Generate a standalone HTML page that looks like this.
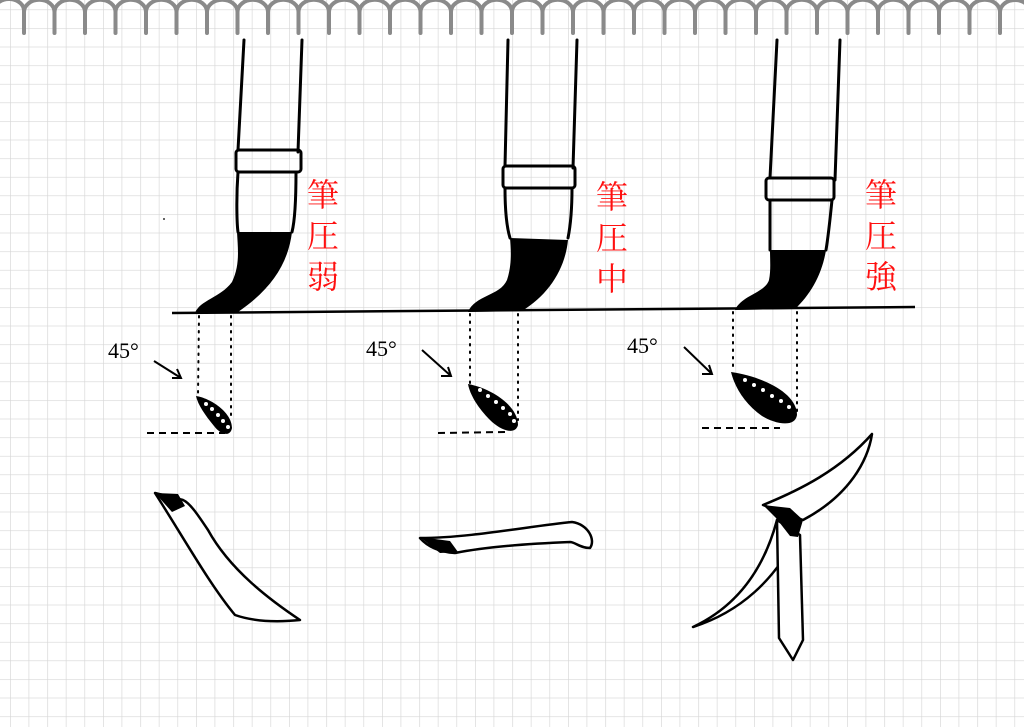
<!DOCTYPE html>
<html><head><meta charset="utf-8"><style>
html,body{margin:0;padding:0;background:#fff;}
svg{display:block}
text{font-family:"Liberation Sans","Noto Sans CJK JP",sans-serif;}
</style></head><body>
<svg width="1024" height="727" viewBox="0 0 1024 727" xmlns="http://www.w3.org/2000/svg">
<defs>
<pattern id="g" x="10" y="9.5" width="18.6" height="18.6" patternUnits="userSpaceOnUse">
<path d="M0 0V18.6M0 0H18.6" stroke="#d6d6d6" stroke-width="1.3" fill="none"/>
</pattern>
</defs>
<rect width="1024" height="727" fill="#fff"/>
<rect width="1024" height="727" fill="url(#g)"/>
<g stroke="#8a8a8a" stroke-width="4" fill="none" stroke-linecap="round">
<path d="M-6 10 A15 12 0 0 1 24 12 A15 12 0 0 1 54.5 12 A15 12 0 0 1 85 12 A15 12 0 0 1 115.5 12 A15 12 0 0 1 146 12 A15 12 0 0 1 176.5 12 A15 12 0 0 1 207 12 A15 12 0 0 1 237.5 12 A15 12 0 0 1 268 12 A15 12 0 0 1 298.5 12 A15 12 0 0 1 329 12 A15 12 0 0 1 359.5 12 A15 12 0 0 1 390 12 A15 12 0 0 1 420.5 12 A15 12 0 0 1 451 12 A15 12 0 0 1 481.5 12 A15 12 0 0 1 512 12 A15 12 0 0 1 542.5 12 A15 12 0 0 1 573 12 A15 12 0 0 1 603.5 12 A15 12 0 0 1 634 12 A15 12 0 0 1 664.5 12 A15 12 0 0 1 695 12 A15 12 0 0 1 725.5 12 A15 12 0 0 1 756 12 A15 12 0 0 1 786.5 12 A15 12 0 0 1 817 12 A15 12 0 0 1 847.5 12 A15 12 0 0 1 878 12 A15 12 0 0 1 908.5 12 A15 12 0 0 1 939 12 A15 12 0 0 1 969.5 12 A15 12 0 0 1 1000 12 A15 12 0 0 1 1030 12"/>
<path d="M24 12V33M54.5 12V33M85 12V33M115.5 12V33M146 12V33M176.5 12V33M207 12V33M237.5 12V33M268 12V33M298.5 12V33M329 12V33M359.5 12V33M390 12V33M420.5 12V33M451 12V33M481.5 12V33M512 12V33M542.5 12V33M573 12V33M603.5 12V33M634 12V33M664.5 12V33M695 12V33M725.5 12V33M756 12V33M786.5 12V33M817 12V33M847.5 12V33M878 12V33M908.5 12V33M939 12V33M969.5 12V33M1000 12V33"/>
</g>
<path d="M172 313 L915 307" stroke="#000" stroke-width="2.5" fill="none"/>
<g stroke="#000" stroke-width="3" fill="none" stroke-linecap="round">
<path d="M244 40 L238 150 M302 40 L298 152"/>
<rect x="236" y="150" width="65" height="22" rx="3"/>
<path d="M238 172 C236 200 237 225 238 232 M296 172 C296 200 295 220 292 232"/>
<path d="M508 40 L505 166 M577 40 L573 168"/>
<rect x="503" y="166" width="72" height="22" rx="3"/>
<path d="M505 188 C505 210 507 228 510 238 M572 188 C572 210 570 228 568 238"/>
<path d="M777 40 L770 178 M840 40 L835 180"/>
<rect x="766" y="178" width="68" height="22" rx="3"/>
<path d="M770 200 C770 220 770 238 770 250 M832 200 C830 220 828 238 826 250"/>
</g>
<g fill="#000">
<path d="M237 232 L292 232 C288 265 270 290 238 312 L195 313 C200 300 220 298 232 282 C240 265 238 250 237 232 Z"/>
<path d="M510 238 L568 240 C565 270 548 295 522 311 L468 312 C475 295 500 296 507 280 C512 265 511 250 510 238 Z"/>
<path d="M770 250 L826 250 C822 275 810 295 795 309 L735 310 C742 295 765 293 769 280 C771 270 770 260 770 250 Z"/>
</g>
<g stroke="#000" stroke-width="2" stroke-dasharray="1.5 6" fill="none" stroke-linecap="round">
<path d="M199 316 L198 395 M231 316 L231 420"/>
<path d="M470 314 L470 386 M518 314 L518 420"/>
<path d="M733 312 L733 372 M797 312 L797 415"/>
</g>
<g stroke="#000" stroke-width="2" stroke-dasharray="7 5" fill="none">
<path d="M147 433 L225 433"/>
<path d="M438 433 L505 432"/>
<path d="M702 428 L780 428"/>
</g>
<g fill="#000">
<path d="M196 396 C210 398 232 412 232 428 C230 438 220 434 214 426 C205 415 198 405 196 396 Z"/>
<path d="M468 384 C490 388 518 405 518 425 C515 436 500 430 490 420 C478 408 470 395 468 384 Z"/>
<path d="M731 372 C760 376 797 392 797 415 C795 428 775 424 762 416 C745 404 735 388 731 372 Z"/>
</g>
<g fill="#fff">
<circle cx="206" cy="404" r="2"/><circle cx="212" cy="409" r="2"/><circle cx="218" cy="415" r="2"/><circle cx="223" cy="421" r="2"/><circle cx="228" cy="427" r="2"/>
<circle cx="480" cy="390" r="2"/><circle cx="488" cy="396" r="2"/><circle cx="496" cy="402" r="2"/><circle cx="503" cy="408" r="2"/><circle cx="510" cy="414" r="2"/><circle cx="514" cy="421" r="2"/>
<circle cx="745" cy="380" r="2"/><circle cx="754" cy="385" r="2"/><circle cx="763" cy="390" r="2"/><circle cx="772" cy="396" r="2"/><circle cx="781" cy="401" r="2"/><circle cx="789" cy="407" r="2"/>
</g>
<g stroke="#000" stroke-width="2" fill="none">
<path d="M154 361 L181 378 M172 378 L181 378 L177 369"/>
<path d="M422 350 L451 376 M441 376 L451 376 L448 367"/>
<path d="M684 347 L712 374 M702 374 L712 374 L709 365"/>
</g>
<g font-size="22" fill="#000">
<text x="108" y="358" style="font-family:'Liberation Serif',serif">45°</text>
<text x="366" y="356" style="font-family:'Liberation Serif',serif">45°</text>
<text x="627" y="353" style="font-family:'Liberation Serif',serif">45°</text>
</g>
<g fill="#ff1010" font-size="32" style="font-family:'Liberation Serif','Noto Serif CJK SC',serif">
<text x="307" y="206" style="font-family:'Liberation Serif','Noto Serif CJK SC',serif">筆</text><text x="307" y="247" style="font-family:'Liberation Serif','Noto Serif CJK SC',serif">圧</text><text x="307" y="288" style="font-family:'Liberation Serif','Noto Serif CJK SC',serif">弱</text>
<text x="596" y="208" style="font-family:'Liberation Serif','Noto Serif CJK SC',serif">筆</text><text x="596" y="249" style="font-family:'Liberation Serif','Noto Serif CJK SC',serif">圧</text><text x="596" y="290" style="font-family:'Liberation Serif','Noto Serif CJK SC',serif">中</text>
<text x="865" y="206" style="font-family:'Liberation Serif','Noto Serif CJK SC',serif">筆</text><text x="865" y="247" style="font-family:'Liberation Serif','Noto Serif CJK SC',serif">圧</text><text x="865" y="288" style="font-family:'Liberation Serif','Noto Serif CJK SC',serif">強</text>
</g>
<g stroke="#000" stroke-width="2.5" fill="#fff" stroke-linejoin="round">
<path d="M155 493 C185 540 210 585 235 615 C255 622 280 622 300 620 C270 600 230 570 208 530 C198 515 190 503 183 500 Z"/>
<path d="M420 538 C470 538 530 526 572 522 C588 524 596 540 590 548 C580 548 575 542 570 542 C520 544 480 548 455 553 C440 552 428 547 420 538 Z"/>
<path d="M763 505 C800 490 840 470 872 434 C868 460 850 495 803 520 Z"/>
<path d="M777 520 C765 565 740 605 693 627 C740 612 775 580 797 535 Z"/>
<path d="M777 520 L779 638 L793 660 L803 640 L800 535 Z"/>
</g>
<g fill="#000">
<path d="M155 493 L178 494 L185 506 L172 512 Z"/>
<path d="M420 537 L450 541 L458 552 L440 553 Z"/>
<path d="M763 505 L790 508 L803 520 L798 537 L790 536 L776 518 Z"/>
</g>
<circle cx="164" cy="219" r="1" fill="#333"/>
</svg>
</body></html>
